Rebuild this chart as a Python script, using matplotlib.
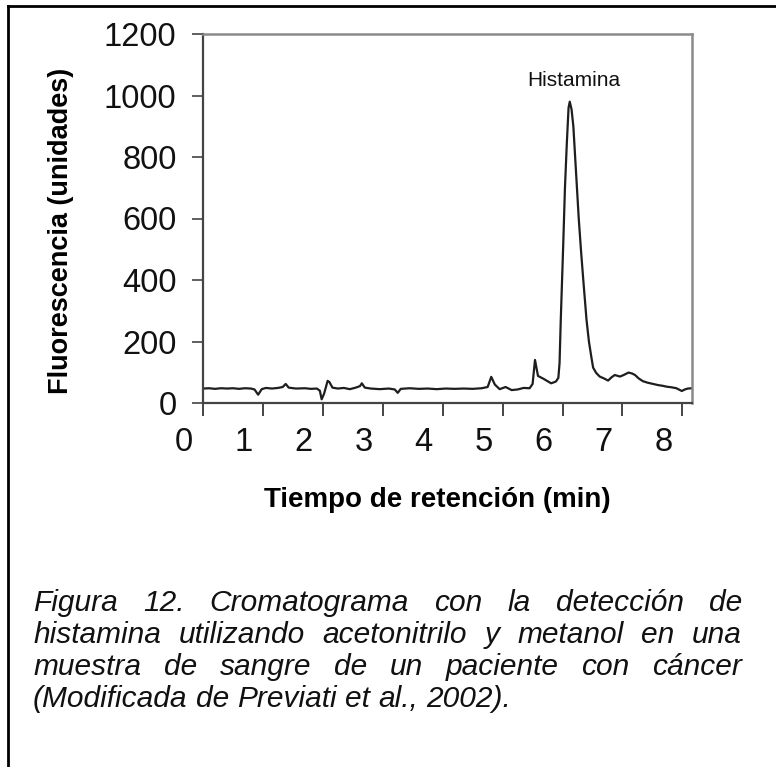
import matplotlib
matplotlib.use("Agg")
import matplotlib.pyplot as plt
from matplotlib.transforms import ScaledTranslation
from matplotlib.lines import Line2D

plt.rcParams['font.family'] = ['Liberation Sans', 'DejaVu Sans']

# ---- data ----
time_min = [0.00, 0.10, 0.20, 0.30, 0.40, 0.50, 0.60, 0.70, 0.80, 0.86,
            0.92, 0.98, 1.05, 1.15, 1.25, 1.33, 1.38, 1.43, 1.55, 1.70,
            1.80, 1.90, 1.95, 1.98, 2.02, 2.08, 2.11, 2.16, 2.25, 2.35,
            2.45, 2.55, 2.62, 2.65, 2.70, 2.80, 2.95, 3.10, 3.20, 3.25,
            3.30, 3.45, 3.60, 3.75, 3.90, 4.05, 4.20, 4.35, 4.50, 4.65,
            4.75, 4.81, 4.87, 4.95, 5.05, 5.15, 5.25, 5.35, 5.45, 5.50,
            5.54, 5.59, 5.67, 5.74, 5.81, 5.89, 5.93, 5.95, 5.97, 6.01,
            6.04, 6.07, 6.10, 6.12, 6.15, 6.18, 6.21, 6.24, 6.27, 6.31,
            6.35, 6.40, 6.44, 6.48, 6.51, 6.56, 6.62, 6.69, 6.76, 6.82,
            6.87, 6.96, 7.03, 7.10, 7.16, 7.21, 7.27, 7.34, 7.42, 7.51,
            7.60, 7.67, 7.74, 7.82, 7.90, 7.95, 7.99, 8.04, 8.09, 8.16]
fluor = [47, 48, 46, 48, 47, 48, 46, 48, 47, 44,
         27, 45, 49, 47, 49, 52, 62, 50, 47, 48,
         46, 47, 40, 12, 30, 72, 68, 50, 47, 49,
         45, 50, 55, 64, 50, 47, 45, 47, 44, 33,
         46, 48, 46, 47, 45, 47, 46, 47, 46, 48,
         52, 85, 60, 45, 52, 42, 44, 49, 48, 62,
         140, 88, 80, 72, 64, 70, 82, 130, 270, 508,
         700, 840, 960, 980, 955, 900, 800, 700, 600, 490,
         390, 270, 200, 150, 115, 98, 86, 80, 73, 84,
         91, 86, 92, 99, 96, 91, 80, 71, 66, 62,
         58, 56, 53, 51, 48, 43, 39, 44, 47, 48]

x_ticks = [0, 1, 2, 3, 4, 5, 6, 7, 8]
y_ticks = [0, 200, 400, 600, 800, 1000, 1200]

peak_label = "Histamina"
xlabel = "Tiempo de retención (min)"
ylabel = "Fluorescencia (unidades)"
caption_lines = [
    "Figura 12. Cromatograma con la detección de",
    "histamina utilizando acetonitrilo y metanol en una",
    "muestra de sangre de un paciente con cáncer",
    "(Modificada de Previati et al., 2002).",
]

W, H, DPI = 776, 767, 100
fig = plt.figure(figsize=(W / DPI, H / DPI), dpi=DPI)
fig.patch.set_facecolor('white')

def fx(px):
    return px / W

def fy(py):
    return 1 - py / H

ax = fig.add_axes([fx(203), fy(403), fx(692) - fx(203), fy(34) - fy(403)])
ax.plot(time_min, fluor, color='#1e1e1e', lw=1.6)
ax.set_xlim(0, 8.16)
ax.set_ylim(0, 1200)
ax.set_xticks(x_ticks)
ax.set_yticks(y_ticks)
ax.set_xticklabels([str(v) for v in x_ticks])
ax.set_yticklabels([str(v) for v in y_ticks])

for s in ['left', 'bottom']:
    ax.spines[s].set_color('#444444')
    ax.spines[s].set_linewidth(1.6)
for s in ['top', 'right']:
    ax.spines[s].set_color('#8a8a8a')
    ax.spines[s].set_linewidth(1.8)

ax.tick_params(axis='y', direction='out', length=8, width=1.2, color='#444444',
               labelsize=23.5, pad=11, labelcolor='#111111')
ax.tick_params(axis='x', direction='out', length=9.5, width=1.4, color='#444444',
               labelsize=23.5, pad=8, labelcolor='#111111')

shift = ScaledTranslation(-0.19, 0, fig.dpi_scale_trans)
for lab in ax.get_xticklabels():
    lab.set_transform(lab.get_transform() + shift)

# peak label
ax.text(6.18, 1050, peak_label, fontsize=15, ha='center', va='center', color='#111111')

# axis labels
fig.text(fx(437), fy(500), xlabel, fontsize=20, fontweight='bold', ha='center', va='center')
fig.text(fx(61), fy(231), ylabel, fontsize=19.5, fontweight='bold', rotation=90,
         ha='center', va='center')

# frame lines
fig.add_artist(Line2D([fx(8), 1.0], [fy(6), fy(6)], color='black', lw=2))
fig.add_artist(Line2D([fx(8), fx(8)], [fy(6), 0.0], color='black', lw=2))

# justified caption
renderer = fig.canvas.get_renderer()
left_px, right_px = 33, 742
baselines = [611, 643, 675, 707]
for i, line in enumerate(caption_lines):
    words = line.split(' ')
    texts = [fig.text(0, fy(baselines[i]), w, fontsize=21.5, style='italic',
                      ha='left', va='baseline', color='#111111') for w in words]
    widths = [t.get_window_extent(renderer).width for t in texts]
    last = (i == len(caption_lines) - 1)
    if last or len(words) == 1:
        space = texts[0].get_fontsize() * DPI / 72 * 0.278
    else:
        space = (right_px - left_px - sum(widths)) / (len(words) - 1)
    x = left_px
    for t, w in zip(texts, widths):
        t.set_x(fx(x))
        x += w + space

fig.savefig('out.png', dpi=DPI, facecolor='white')
